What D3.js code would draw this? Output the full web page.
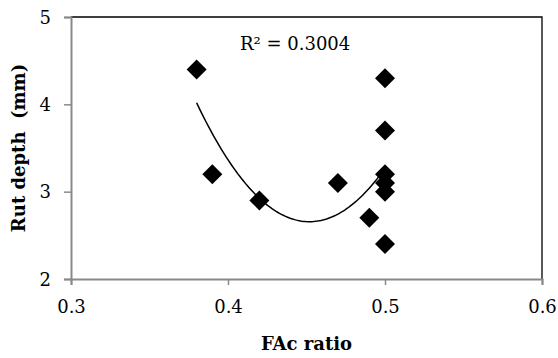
<!DOCTYPE html>
<html lang="en">
<head>
    <meta charset="UTF-8">
    <title>Rut depth vs FAc ratio</title>
    <script src="https://cdn.jsdelivr.net/npm/d3@7"></script>
    <style>
        * { margin: 0; padding: 0; }
        body { background: #fff; }
        svg text { font-family: 'DejaVu Serif', 'Liberation Serif', serif !important; }
    </style>
</head>
<body>
</body>
<script>
    const width = 558
    const height = 358

    // data
    const facRatio = [0.38, 0.39, 0.42, 0.47, 0.49, 0.5, 0.5, 0.5, 0.5, 0.5, 0.5]
    const rutDepth = [4.4, 3.2, 2.9, 3.1, 2.7, 4.3, 3.7, 3.2, 3.1, 3.0, 2.4]
    const xTicks = [0.3, 0.4, 0.5, 0.6]
    const yTicks = [2, 3, 4, 5]
    const r2Label = 'R² = 0.3004'

    const margin = { left: 71, right: 16, top: 17, bottom: 79 }

    const svg = d3.select('body')
        .append('svg')
        .attr('width', width)
        .attr('height', height)

    const x = d3.scaleLinear().domain([0.3, 0.6]).range([margin.left, width - margin.right])
    const y = d3.scaleLinear().domain([2, 5]).range([height - margin.bottom, margin.top])

    // frame: top and right in black
    svg.append('path')
        .attr('d', `M${x(0.3)},${y(5)}H${x(0.6)}V${y(2)}`)
        .attr('fill', 'none')
        .attr('stroke', '#000')
        .attr('stroke-width', 1.3)

    const xAxis = svg.append('g')
        .attr('transform', `translate(0,${y(2)})`)
        .call(d3.axisBottom(x).tickValues(xTicks).tickSize(6).tickPadding(15).tickFormat(d3.format('.1f')))
    const yAxis = svg.append('g')
        .attr('transform', `translate(${x(0.3)},0)`)
        .call(d3.axisLeft(y).tickValues(yTicks).tickSize(7).tickPadding(13).tickFormat(d3.format('d')))

    ;[xAxis, yAxis].forEach(g => {
        g.attr('font-family', null).attr('font-size', null)
        g.select('.domain').attr('stroke', '#898989').attr('stroke-width', 2)
        g.selectAll('.tick line').attr('stroke', '#898989').attr('stroke-width', 1.5)
        g.selectAll('.tick text')
            .attr('fill', '#000')
            .style('font-size', '18px')
    })
    yAxis.selectAll('.tick text').attr('dy', '0.35em')

    // quadratic trendline fitted to the points (least squares)
    function polyFit2(xs, ys) {
        const n = xs.length
        let s = [0, 0, 0, 0, 0], t = [0, 0, 0]
        for (let i = 0; i < n; i++) {
            for (let k = 0; k < 5; k++) s[k] += Math.pow(xs[i], k)
            for (let k = 0; k < 3; k++) t[k] += ys[i] * Math.pow(xs[i], k)
        }
        const A = [[s[0], s[1], s[2], t[0]], [s[1], s[2], s[3], t[1]], [s[2], s[3], s[4], t[2]]]
        for (let c = 0; c < 3; c++) {
            for (let r = c + 1; r < 3; r++) {
                const f = A[r][c] / A[c][c]
                for (let k = c; k < 4; k++) A[r][k] -= f * A[c][k]
            }
        }
        const b = [0, 0, 0]
        for (let r = 2; r >= 0; r--) {
            let v = A[r][3]
            for (let k = r + 1; k < 3; k++) v -= A[r][k] * b[k]
            b[r] = v / A[r][r]
        }
        return b
    }
    const coef = polyFit2(facRatio, rutDepth)
    const xMin = d3.min(facRatio), xMax = d3.max(facRatio)
    const trend = d3.range(0, 101).map(i => {
        const xv = xMin + (xMax - xMin) * i / 100
        return [xv, coef[0] + coef[1] * xv + coef[2] * xv * xv]
    })
    svg.append('path')
        .datum(trend)
        .attr('d', d3.line().x(d => x(d[0])).y(d => y(d[1])))
        .attr('fill', 'none')
        .attr('stroke', '#000')
        .attr('stroke-width', 1.5)

    // diamond markers
    const half = 10
    svg.selectAll('.pt')
        .data(facRatio)
        .enter()
        .append('path')
        .attr('class', 'pt')
        .attr('transform', (d, i) => `translate(${x(d)},${y(rutDepth[i])})`)
        .attr('d', `M0,${-half}L${half},0L0,${half}L${-half},0Z`)
        .attr('fill', '#000')

    svg.append('text')
        .attr('x', 240)
        .attr('y', 50)
        .style('font-size', '18px')
        .text(r2Label)

    svg.append('text')
        .attr('x', (x(0.3) + x(0.6)) / 2)
        .attr('y', 350)
        .attr('text-anchor', 'middle')
        .style('font-size', '18px')
        .style('font-weight', 'bold')
        .text('FAc ratio')

    svg.append('text')
        .attr('transform', 'translate(25,148) rotate(-90)')
        .attr('text-anchor', 'middle')
        .style('font-size', '18px')
        .style('font-weight', 'bold')
        .style('white-space', 'pre')
        .text('Rut depth  (mm)')
</script>
</html>
